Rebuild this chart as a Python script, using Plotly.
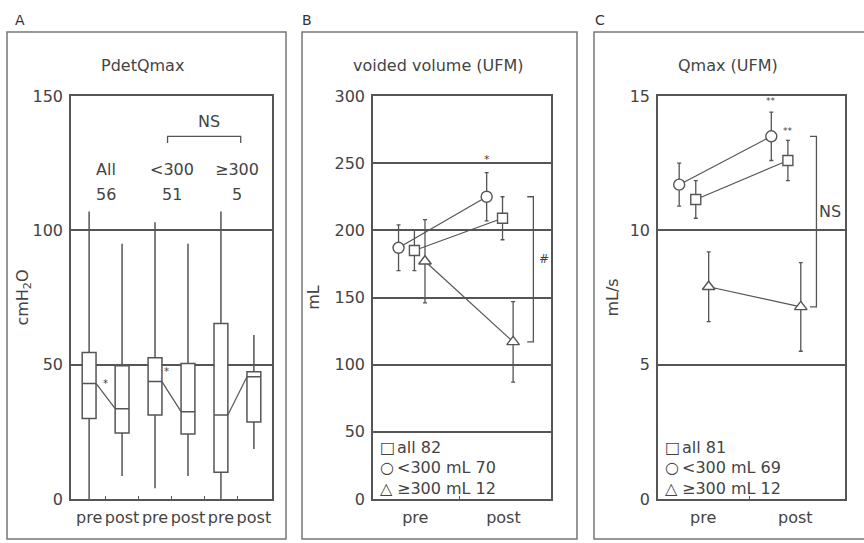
import plotly.graph_objects as go

W, H = 864, 543
FONT = "DejaVu Sans, Liberation Sans, sans-serif"
LC = "#555555"
TC = "#444444"

# ---------------- Panel A data (box plots, PdetQmax cmH2O) ----------------
box_labels = ["pre", "post", "pre", "post", "pre", "post"]
box_upper = [107, 95, 103, 95, 107, 61]
box_q3 = [54.5, 49.6, 52.6, 50.4, 65.3, 47.4]
box_median = [43, 33.6, 43.7, 32.5, 31.3, 45.5]
box_q1 = [30, 24.6, 31.3, 24.2, 10, 28.7]
box_lower = [0, 8.6, 4, 8.6, 0, 18.6]
group_names = ["All", "<300", "≥300"]
group_n = ["56", "51", "5"]

# ---------------- Panel B data (voided volume, mL) ----------------
time_labels = ["pre", "post"]
vv_all = [185, 209]
vv_all_err = [15, 16]
vv_lt300 = [187, 225]
vv_lt300_err = [17, 18]
vv_ge300 = [177, 117]
vv_ge300_err = [31, 30]
vv_legend = ["all 82", "<300 mL 70", "≥300 mL 12"]

# ---------------- Panel C data (Qmax, mL/s) ----------------
q_all = [11.15, 12.6]
q_all_err = [0.7, 0.75]
q_lt300 = [11.7, 13.5]
q_lt300_err = [0.8, 0.9]
q_ge300 = [7.9, 7.15]
q_ge300_err = [1.3, 1.65]
q_legend = ["all 81", "<300 mL 69", "≥300 mL 12"]
legend_symbols = ["□", "○", "△"]


def px(x):
    return x / W


def py(y):
    return 1 - y / H


fig = go.Figure()

# ---- Panel A boxes ----
BOXW = 0.42
for i in range(len(box_labels)):
    fig.add_trace(go.Box(
        x=[i], q1=[box_q1[i]], median=[box_median[i]], q3=[box_q3[i]],
        lowerfence=[box_lower[i]], upperfence=[box_upper[i]],
        width=BOXW, whiskerwidth=0, fillcolor="white",
        line=dict(color=LC, width=1.5), boxpoints=False,
        showlegend=False, hoverinfo="skip", xaxis="x", yaxis="y"))
# median connecting lines pre -> post
for g in range(3):
    i, j = 2 * g, 2 * g + 1
    fig.add_trace(go.Scatter(
        x=[i + BOXW / 2, j - BOXW / 2], y=[box_median[i], box_median[j]],
        mode="lines", line=dict(color=LC, width=1.2),
        showlegend=False, hoverinfo="skip", xaxis="x", yaxis="y"))

# ---- Panels B & C points ----
SYMS = ["square", "circle", "triangle-up"]
SIZES = [10, 11, 11]


def add_series(vals, errs, offsets, xa, ya):
    for k in range(3):
        xs = [t + offsets[k] for t in range(2)]
        fig.add_trace(go.Scatter(
            x=xs, y=vals[k], mode="lines+markers",
            line=dict(color=LC, width=1.2),
            marker=dict(symbol=SYMS[k], size=SIZES[k], color="white",
                        line=dict(color=LC, width=1.4)),
            error_y=dict(type="data", array=errs[k], color=LC,
                         thickness=1.3, width=2),
            showlegend=False, hoverinfo="skip", xaxis=xa, yaxis=ya))


add_series([vv_all, vv_lt300, vv_ge300], [vv_all_err, vv_lt300_err, vv_ge300_err],
           [-0.01, -0.19, 0.11], "x2", "y2")
add_series([q_all, q_lt300, q_ge300], [q_all_err, q_lt300_err, q_ge300_err],
           [-0.08, -0.26, 0.06], "x3", "y3")

# ---------------- Axes ----------------
ydom = [py(499), py(96)]
common_x = dict(showline=True, mirror=True, linecolor=LC, linewidth=1.5,
                showgrid=False, zeroline=False, ticks="", automargin=False,
                ticklabelstandoff=3,
                tickfont=dict(family=FONT, size=16, color=TC))
common_y = dict(showline=True, mirror=True, linecolor=LC, linewidth=1.5,
                showgrid=True, gridcolor=LC, gridwidth=1.5, zeroline=False,
                ticks="", ticklen=0, automargin=False, ticklabelstandoff=3,
                tickfont=dict(family=FONT, size=16, color=TC),
                title_font=dict(family=FONT, size=16, color=TC))

fig.update_layout(
    template="none",
    width=W, height=H, margin=dict(l=0, r=0, t=0, b=0, pad=0),
    paper_bgcolor="white", plot_bgcolor="white",
    font=dict(family=FONT, size=16, color=TC),
    showlegend=False,
    xaxis=dict(domain=[px(71), px(272)], range=[-0.55, 5.55],
               tickmode="array", tickvals=list(range(6)), ticktext=box_labels,
               minor=dict(tickmode="array", tickvals=[k + 0.5 for k in range(5)],
                          ticks="inside", ticklen=3, tickcolor=LC),
               anchor="y", **common_x),
    yaxis=dict(domain=ydom, range=[0, 150], tickvals=[0, 50, 100, 150],
               anchor="x", title=dict(text="cmH<sub>2</sub>O", standoff=0),
               **common_y),
    xaxis2=dict(domain=[px(373), px(551)], range=[-0.48, 1.54],
                tickmode="array", tickvals=[0, 1], ticktext=time_labels,
                minor=dict(tickmode="array", tickvals=[0.5], ticks="inside",
                           ticklen=3, tickcolor=LC),
                anchor="y2", **common_x),
    yaxis2=dict(domain=ydom, range=[0, 300], tickvals=[0, 50, 100, 150, 200, 250, 300],
                anchor="x2", title=dict(text="mL", standoff=11), **common_y),
    xaxis3=dict(domain=[px(658), px(845)], range=[-0.49, 1.54],
                tickmode="array", tickvals=[0, 1], ticktext=time_labels,
                minor=dict(tickmode="array", tickvals=[0.5], ticks="inside",
                           ticklen=3, tickcolor=LC),
                anchor="y3", **common_x),
    yaxis3=dict(domain=ydom, range=[0, 15], tickvals=[0, 5, 10, 15],
                anchor="x3", title=dict(text="mL/s", standoff=7), **common_y),
)

shapes = []
# outer panel frames
for x0, x1 in [(7, 286), (302, 577), (594, 872)]:
    shapes.append(dict(type="rect", xref="paper", yref="paper",
                       x0=px(x0), x1=px(x1), y0=py(539), y1=py(32),
                       line=dict(color="#777777", width=1.5)))
# Panel A NS bracket
shapes.append(dict(type="path", xref="x", yref="y",
                   path="M 2.38 132.5 L 2.38 135 L 4.6 135 L 4.6 132.5",
                   line=dict(color=LC, width=1.3)))
# Panel B '#' bracket from <300 post to >=300 post
bx, bt = 1.34, 1.27
shapes.append(dict(type="path", xref="x2", yref="y2",
                   path=f"M {bt} {vv_lt300[1]} L {bx} {vv_lt300[1]} L {bx} {vv_ge300[1]} L {bt} {vv_ge300[1]}",
                   line=dict(color=LC, width=1.3)))
# Panel C NS bracket
cx, ct = 1.23, 1.16
shapes.append(dict(type="path", xref="x3", yref="y3",
                   path=f"M {ct} {q_lt300[1]} L {cx} {q_lt300[1]} L {cx} {q_ge300[1]} L {ct} {q_ge300[1]}",
                   line=dict(color=LC, width=1.3)))
fig.update_layout(shapes=shapes)

ann = []


def A(text, x, y, xref="paper", yref="paper", size=16, xanchor="center", color=TC):
    ann.append(dict(text=text, x=x, y=y, xref=xref, yref=yref, showarrow=False,
                    xanchor=xanchor, yanchor="middle",
                    font=dict(family=FONT, size=size, color=color)))


# panel letters
for lab, x in [("A", 20), ("B", 307), ("C", 600)]:
    A(lab, px(x), py(20), size=14, color="#333333")
# panel titles
for t, x in [("PdetQmax", 142), ("voided volume (UFM)", 438), ("Qmax (UFM)", 728)]:
    A(t, px(x), py(65), size=16)
# Panel A group labels
for g in range(3):
    A(group_names[g], 2 * g + 0.5, 122.8, "x", "y")
    A(group_n[g], 2 * g + 0.5, 113.4, "x", "y")
A("NS", 3.65, 140.5, "x", "y")
A("*", 0.5, 43, "x", "y", size=10)
A("*", 2.35, 47.5, "x", "y", size=10)
# Panel B
A("*", 1 - 0.19, vv_lt300[1] + vv_lt300_err[1] + 10, "x2", "y2", size=11)
A("<i>#</i>", 1.46, (vv_lt300[1] + vv_ge300[1]) / 2 + 8, "x2", "y2", size=12)
# Panel C
A("**", 1 - 0.26, q_lt300[1] + q_lt300_err[1] + 0.4, "x3", "y3", size=9)
A("**", 1 - 0.08, q_all[1] + q_all_err[1] + 0.35, "x3", "y3", size=9)
A("NS", 1.38, 10.7, "x3", "y3")

# legends (B and C)
for x0, texts in [(378, vv_legend), (663, q_legend)]:
    for k in range(3):
        yy = py(447 + 20.5 * k)
        A(legend_symbols[k], px(x0), yy, size=16, xanchor="left")
        A(texts[k], px(x0 + 17), yy, size=16, xanchor="left")

fig.update_layout(annotations=ann)

fig.write_html("out.html")
